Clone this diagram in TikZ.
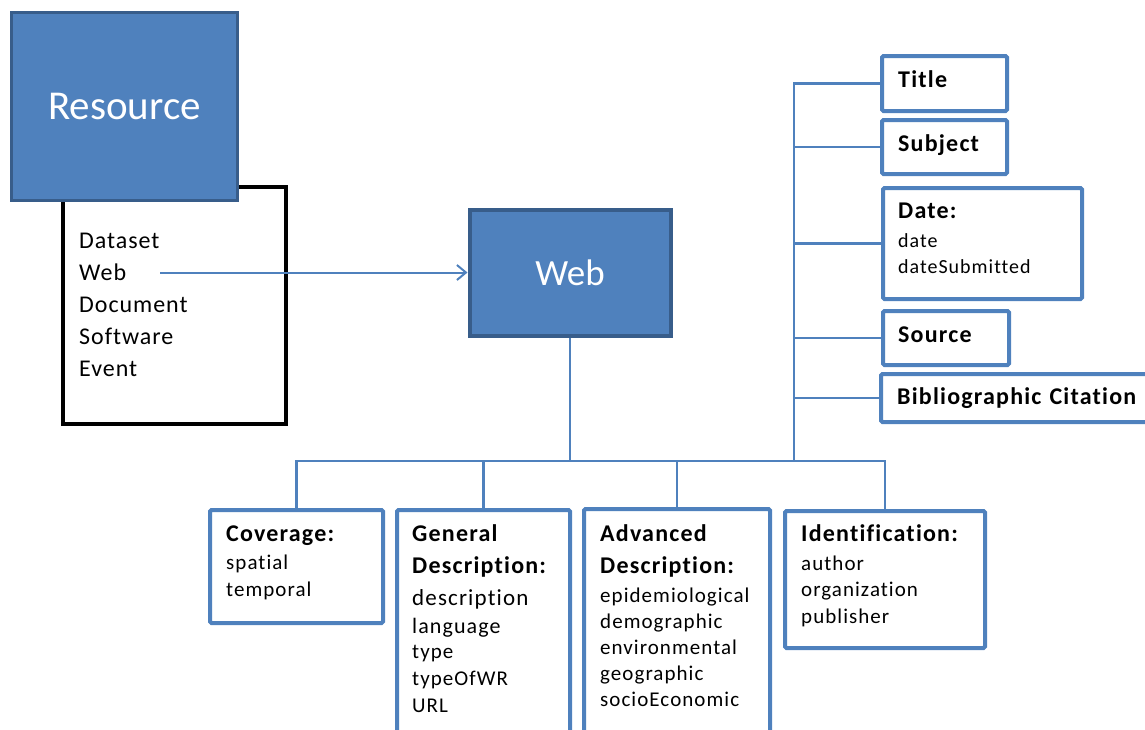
\documentclass[tikz,border=0pt]{standalone}
\usepackage{fontspec}
\setmainfont{Carlito}
\newfontfamily\spaced[LetterSpace=5, Ligatures=NoCommon]{Carlito}
\newfontfamily\listfont[LetterSpace=4, Ligatures=NoCommon]{Carlito}
\usetikzlibrary{arrows.meta}

\definecolor{boxblue}{HTML}{4F81BD}
\definecolor{boxedge}{HTML}{385D8A}

\tikzset{
  filledbox/.style={rectangle, fill=boxblue, draw=boxedge, line width=3.5pt,
    text=white, inner sep=0pt},
  bluebox/.style={rectangle, draw=boxblue, line width=4pt, fill=white,
    rounded corners=1.5pt, inner sep=0pt},
  blackbox/.style={rectangle, draw=black, line width=3.5pt, fill=white, inner sep=0pt},
  link/.style={draw=boxblue, line width=2.5pt},
  txt/.style={anchor=base west, inner sep=0pt, text width=260pt, align=left},
  hd/.style={txt, font=\spaced\fontsize{24}{32}\selectfont\bfseries},
  bd/.style={txt, font=\spaced\fontsize{21}{27}\selectfont},
}

\begin{document}
\begin{tikzpicture}[x=1pt, y=-1pt]
\useasboundingbox (0,0) rectangle (1145,729);
\clip (0,0) rectangle (1145,729);

% resource with its list of kinds
\node[blackbox, minimum width=223, minimum height=237] (kinds) at (174.5,305.5) {};
\node[filledbox, minimum width=226, minimum height=188,
      font=\fontsize{41}{41}\selectfont] (resource) at (124.5,106.5) {Resource};
\node[txt, font=\listfont\fontsize{24}{32}\selectfont] (kindlist) at (79,248)
  {Dataset\\Web\\Document\\Software\\Event};

% web resource
\node[filledbox, line width=4pt, minimum width=201, minimum height=126,
      font=\fontsize{37}{37}\selectfont] (web) at (570,272.5) {Web};
\coordinate (webitem) at (160,272.5);
\draw[link, line width=2pt, -{Straight Barb[length=9pt, width=15pt, line width=2pt]}]
  (webitem) -- (web.west);

% element groups below
\node[bluebox, minimum width=173, minimum height=113] (cov)   at (296.5,566.5) {};
\node[bluebox, minimum width=173, minimum height=248] (gen)   at (483.5,634)   {};
\node[bluebox, minimum width=186, minimum height=249] (adv)   at (677,633.5)   {};
\node[bluebox, minimum width=200, minimum height=137] (ident) at (885,579.5)   {};

% single elements on the right
\node[bluebox, minimum width=125, minimum height=55]  (title)  at (944.5,83.5)  {};
\node[bluebox, minimum width=125, minimum height=54]  (subj)   at (944.5,147)   {};
\node[bluebox, minimum width=199, minimum height=111] (date)   at (982.5,243.5) {};
\node[bluebox, minimum width=126, minimum height=54]  (source) at (946,338)     {};
\node[bluebox, minimum width=287, minimum height=48]  (biblio) at (1024.5,398)  {};

% connectors
\coordinate (hub)   at (570,461);
\coordinate (spine) at (794,461);
\draw[link] (web.south) -- (hub);
\draw[link] (cov.north) |- (hub) -- (ident.north |- hub) -- (ident.north);
\draw[link] (gen.north) -- (gen.north |- hub);
\draw[link] (adv.north) -- (adv.north |- hub);
\draw[link] (spine) -- (spine |- title.west) -- (title.west);
\draw[link] (spine |- subj.west)   -- (subj.west);
\draw[link] (spine |- date.west)   -- (date.west);
\draw[link] (spine |- source.west) -- (source.west);
\draw[link] (spine |- biblio.west) -- (biblio.west);

% texts of the right column
\node[hd] (titletxt)  at (898,87)  {Title};
\node[hd] (subjtxt)   at (898,151) {Subject};
\node[hd] (datehd)    at (898,218) {Date:};
\node[bd, font=\spaced\fontsize{20}{26}\selectfont] (datebd) at (898,247) {date\\dateSubmitted};
\node[hd] (sourcetxt) at (898,342) {Source};
\node[hd] (bibliotxt) at (897,404) {Bibliographic Citation};

% texts of the lower groups
\node[hd] (covhd) at (226,541) {Coverage:};
\node[bd] (covbd) at (226,569) {spatial\\temporal};

\node[hd] (genhd) at (412,541) {General\\Description:};
\node[bd] (genbd) at (412,605)
  {{\fontsize{23}{27}\selectfont description}\\[1pt]
   {\fontsize{22}{27}\selectfont language}\\[-2pt]
   type\\typeOfWR\\URL};

\node[hd] (advhd) at (600,541) {Advanced\\Description:};
\node[bd, font=\spaced\fontsize{21}{26.2}\selectfont] (advbd) at (600,602)
  {epidemiological\\demographic\\environmental\\geographic\\socioEconomic};

\node[hd] (idhd) at (801,541) {Identification:};
\node[bd, font=\spaced\fontsize{21}{26.5}\selectfont] (idbd) at (801,570)
  {author\\organization\\publisher};
\end{tikzpicture}
\end{document}
